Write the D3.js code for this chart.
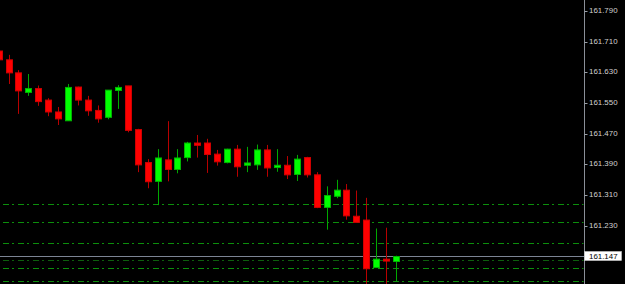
<!DOCTYPE html>
<html>
<head>
<meta charset="utf-8">
<script src="https://cdn.jsdelivr.net/npm/d3@7"></script>
<style>
html,body{margin:0;padding:0;background:#000;overflow:hidden;}
svg{display:block;}
</style>
</head>
<body>
<svg id="chart" width="625" height="284"></svg>
<script>
// ---- data ----
const bars = d3.range(-1, 40);
const open  = [161.683,161.660,161.626,161.575,161.585,161.555,161.524,161.501,161.589,161.555,161.528,161.510,161.580,161.592,161.478,161.392,161.343,161.399,161.374,161.405,161.443,161.443,161.414,161.392,161.427,161.385,161.386,161.425,161.379,161.385,161.361,161.405,161.360,161.275,161.304,161.320,161.252,161.242,161.118,161.140,161.134];
const high  = [161.686,161.673,161.633,161.623,161.593,161.560,161.537,161.597,161.590,161.566,161.541,161.581,161.594,161.592,161.480,161.401,161.427,161.500,161.427,161.446,161.464,161.454,161.425,161.428,161.438,161.433,161.439,161.438,161.427,161.409,161.412,161.407,161.367,161.330,161.347,161.336,161.319,161.300,161.220,161.222,161.149];
const low   = [161.657,161.597,161.519,161.566,161.540,161.513,161.490,161.501,161.541,161.514,161.496,161.505,161.532,161.471,161.367,161.325,161.281,161.343,161.364,161.395,161.405,161.365,161.384,161.390,161.355,161.367,161.373,161.355,161.368,161.349,161.344,161.353,161.273,161.217,161.299,161.243,161.236,161.060,161.117,161.060,161.083];
const close = [161.660,161.626,161.579,161.585,161.551,161.524,161.506,161.588,161.555,161.527,161.506,161.581,161.588,161.476,161.386,161.342,161.404,161.374,161.404,161.443,161.437,161.413,161.394,161.427,161.381,161.391,161.425,161.378,161.385,161.360,161.401,161.360,161.275,161.306,161.320,161.253,161.236,161.115,161.140,161.135,161.147];
const levels = [161.283,161.236,161.181,161.138,161.116,161.083];
const levelDim = [false,false,false,true,false,false];
const ticks = [161.790,161.710,161.630,161.550,161.470,161.390,161.310,161.230,161.150,161.070];
const currentPrice = 161.147;

// ---- scales ----
const svg = d3.select("#chart");
const W = 625, H = 284, axisX = 584.5;
const x = d3.scaleLinear().domain([-1, 39]).range([-1.44, 396.16]);
const y = d3.scaleLinear().domain([161.070, 161.790]).range([286, 10]);

svg.append("rect").attr("width", W).attr("height", H).attr("fill", "#000");

// level lines (dash-dot)
svg.append("g").selectAll("line").data(levels).join("line")
  .attr("x1", 0).attr("x2", axisX - 1)
  .attr("y1", d => Math.round(y(d)) + 0.5).attr("y2", d => Math.round(y(d)) + 0.5)
  .attr("stroke", (d, i) => levelDim[i] ? "#0d5e0d" : "#0c8f0c")
  .attr("stroke-width", 1)
  .attr("stroke-dasharray", "6,3,2,4")
  .attr("stroke-dashoffset", 12);

// current price line
svg.append("line")
  .attr("x1", 0).attr("x2", axisX)
  .attr("y1", Math.round(y(currentPrice)) + 0.5).attr("y2", Math.round(y(currentPrice)) + 0.5)
  .attr("stroke", "#7c8494").attr("stroke-width", 1);

// candles
const data = bars.map((b, i) => ({b, o: open[i], h: high[i], l: low[i], c: close[i]}));
const g = svg.append("g");
g.selectAll("line.wick").data(data).join("line")
  .attr("class", "wick")
  .attr("x1", d => Math.round(x(d.b)) + 0.5).attr("x2", d => Math.round(x(d.b)) + 0.5)
  .attr("y1", d => y(d.h)).attr("y2", d => y(d.l))
  .attr("stroke", d => d.c >= d.o ? "#00a800" : "#b80000")
  .attr("stroke-width", 1);
g.selectAll("rect.body").data(data).join("rect")
  .attr("class", "body")
  .attr("x", d => Math.round(x(d.b)) - 2.5)
  .attr("width", 6)
  .attr("y", d => y(Math.max(d.o, d.c)))
  .attr("height", d => Math.max(1.5, Math.abs(y(d.o) - y(d.c))))
  .attr("fill", d => d.c >= d.o ? "#00ff00" : "#ff0000")
  .attr("stroke", d => d.c >= d.o ? "#00b400" : "#d00000")
  .attr("stroke-width", 1);

// right axis
svg.append("rect").attr("x", axisX).attr("y", 0).attr("width", W - axisX).attr("height", H).attr("fill", "#000");
svg.append("line").attr("x1", axisX).attr("x2", axisX).attr("y1", 0).attr("y2", H)
  .attr("stroke", "#8a8f98").attr("stroke-width", 1);
const ax = svg.append("g");
ax.selectAll("line").data(ticks).join("line")
  .attr("x1", axisX).attr("x2", axisX + 3)
  .attr("y1", d => Math.round(y(d)) + 1.5).attr("y2", d => Math.round(y(d)) + 1.5)
  .attr("stroke", "#9aa0a8");
ax.selectAll("text").data(ticks).join("text")
  .attr("x", 589).attr("y", d => y(d) + 3)
  .attr("fill", "#d0d0d0")
  .attr("font-family", "Liberation Sans, Arial, sans-serif")
  .attr("font-size", "7.9px")
  .text(d => d.toFixed(3));

// current price label
const py = y(currentPrice);
svg.append("rect").attr("x", axisX).attr("y", Math.round(py) - 4.5).attr("width", 37).attr("height", 9)
  .attr("fill", "#ffffff").attr("stroke", "#c8c8c8").attr("stroke-width", 0.6);
svg.append("text").attr("x", 589).attr("y", py + 3)
  .attr("fill", "#000").attr("font-family", "Liberation Sans, Arial, sans-serif")
  .attr("font-size", "7.9px").text(currentPrice.toFixed(3));
</script>
</body>
</html>
